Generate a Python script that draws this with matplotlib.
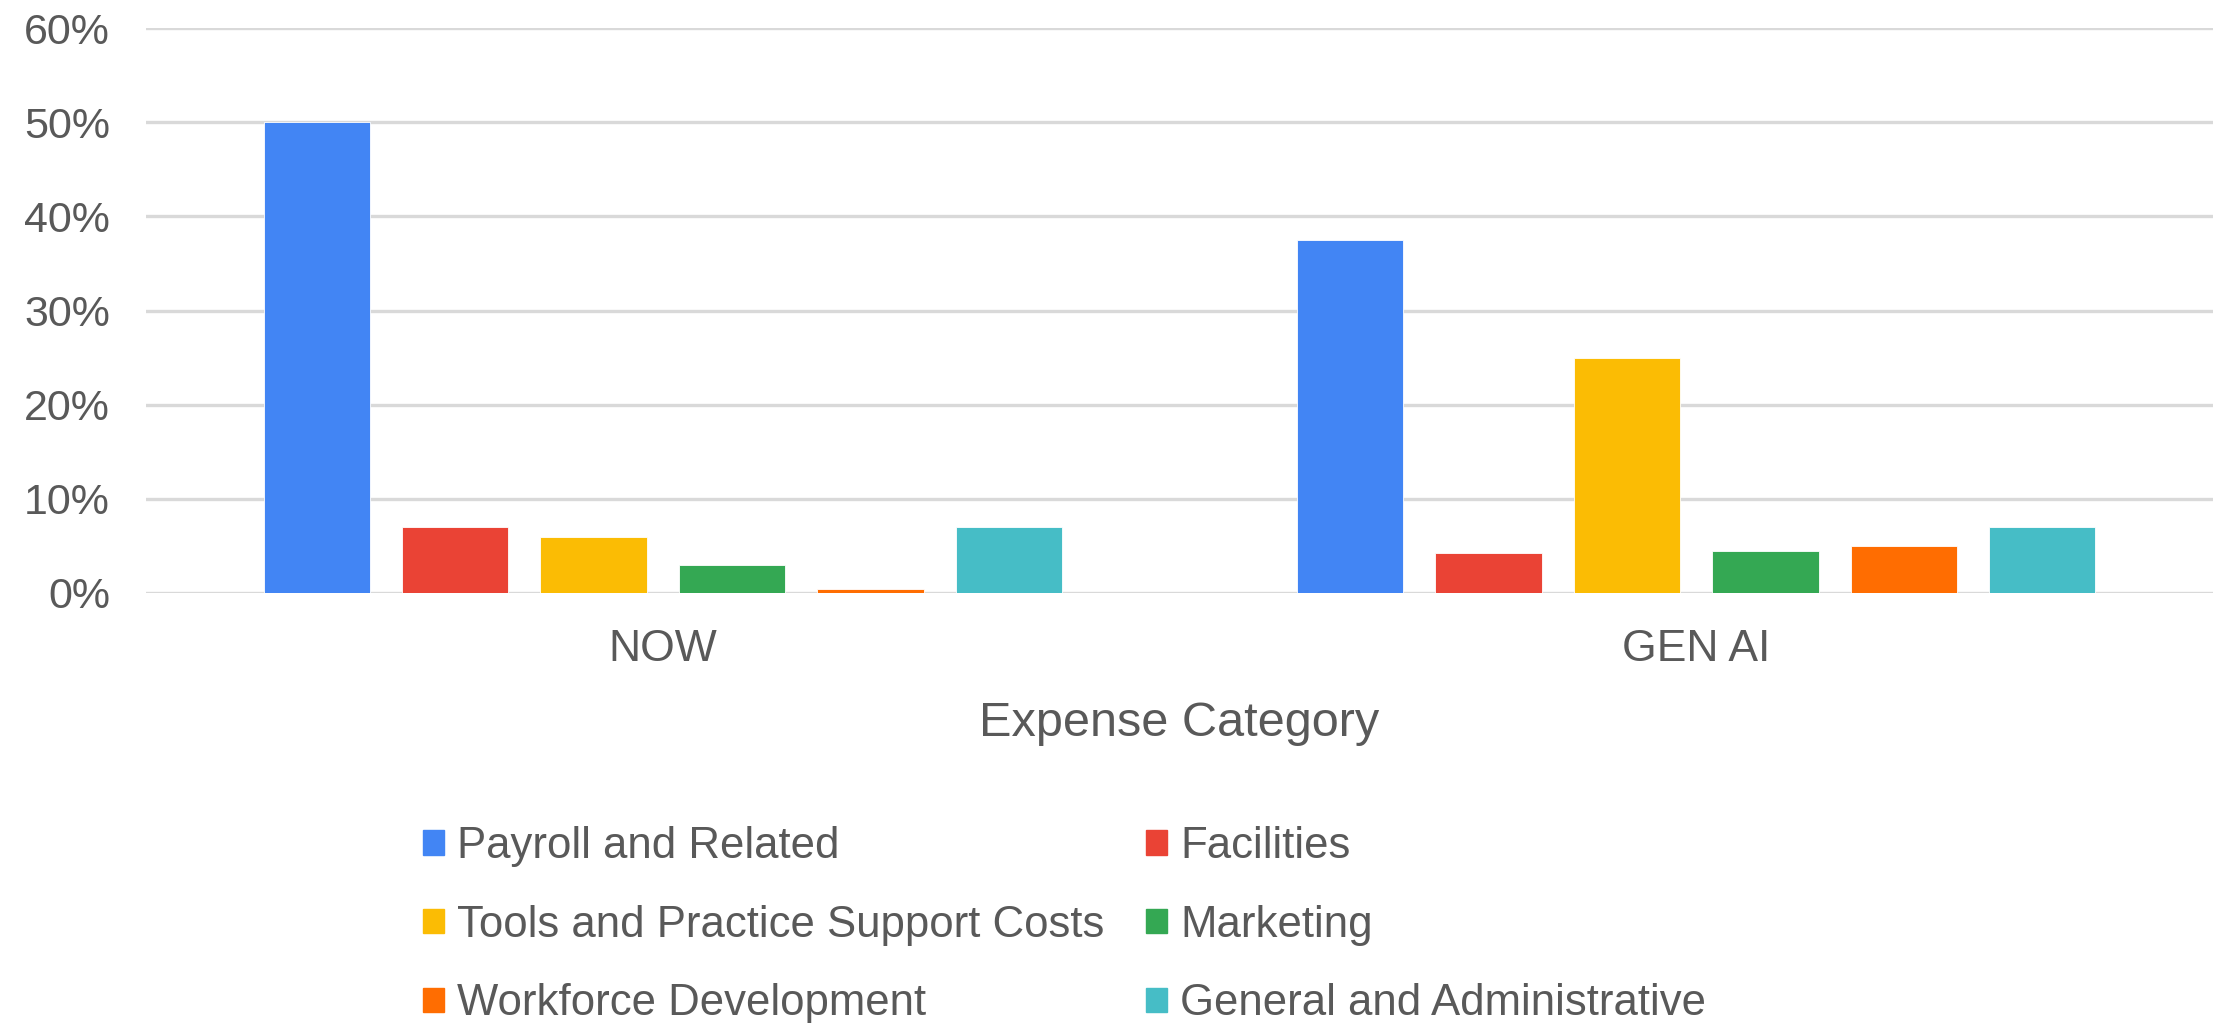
import numpy as np
import matplotlib.pyplot as plt
from matplotlib.ticker import PercentFormatter
from matplotlib.patches import Patch

plt.rcParams['font.family'] = ['Liberation Sans', 'DejaVu Sans']

groups = ['NOW', 'GEN AI']
series = ['Payroll and Related', 'Facilities', 'Tools and Practice Support Costs',
          'Marketing', 'Workforce Development', 'General and Administrative']
now_vals = [50, 7, 6, 3, 0.45, 7]
genai_vals = [37.5, 4.2, 25, 4.5, 5, 7]
colors = ['#4285F4', '#EA4335', '#FBBC04', '#34A853', '#FF6D01', '#46BDC6']

txt = '#595959'

fig = plt.figure(figsize=(22.24, 10.23), dpi=100)
ax = fig.add_axes([146/2224, 1-593/1023, (2213-146)/2224, (593-28)/1023])

x = np.arange(len(groups))
step = 0.134
width = 0.1026
vals = np.array([now_vals, genai_vals])
for i, (name, c) in enumerate(zip(series, colors)):
    off = (i - 2.5) * step
    ax.bar(x + off, vals[:, i], width, color=c, zorder=3, label=name,
           edgecolor='white', linewidth=0.6)

ax.set_xlim(-0.5, 1.5)
ax.set_ylim(0, 60)
ax.set_yticks(np.arange(0, 61, 10))
ax.yaxis.set_major_formatter(PercentFormatter(decimals=0))
ax.set_xticks(x)
ax.set_xticklabels(groups)
ax.grid(axis='y', color='#d9d9d9', linewidth=2.4, zorder=0)
ax.set_axisbelow(True)
for s in ax.spines.values():
    s.set_visible(False)
ax.tick_params(axis='y', length=0, pad=26, labelsize=31, labelcolor=txt)
ax.tick_params(axis='x', length=0, pad=26, labelsize=32, labelcolor=txt)
ax.set_xlabel('Expense Category', fontsize=35, color=txt, labelpad=22)

# legend filled column-wise, so reorder to read row by row
order = [0, 2, 4, 1, 3, 5]
handles = [Patch(color=colors[k]) for k in order]
labels = [series[k] for k in order]
fig.legend(handles, labels, ncol=2, loc='upper left',
           bbox_to_anchor=(423/2224, 1-826/1023), frameon=False,
           fontsize=31.5, labelcolor=txt, borderpad=0, borderaxespad=0,
           handlelength=0.48, handleheight=0.48, handletextpad=0.3,
           columnspacing=0.95, labelspacing=0.86)

fig.savefig('out.png', dpi=100)
